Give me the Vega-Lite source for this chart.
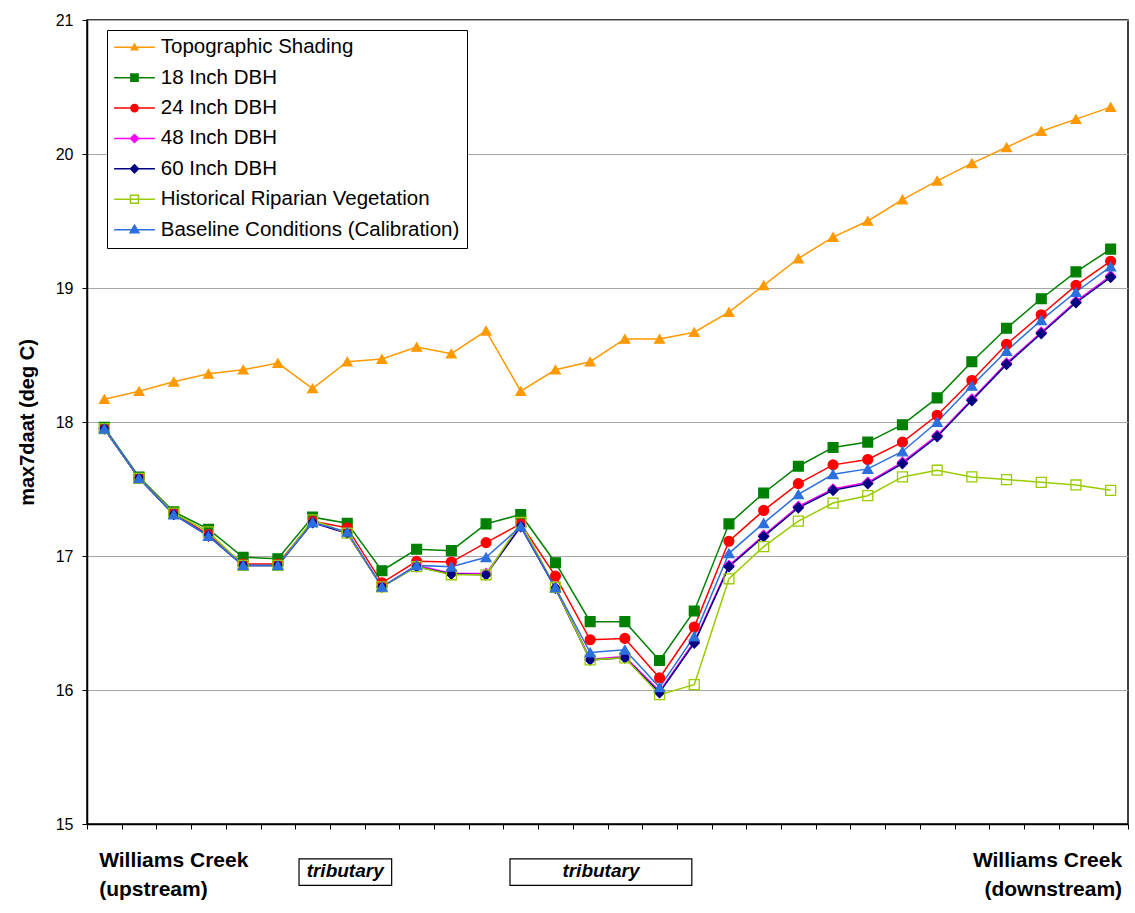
{
  "$schema": "https://vega.github.io/schema/vega-lite/v6.json",
  "width": 1041,
  "height": 804,
  "autosize": {"type": "none"},
  "padding": {"left": 87, "top": 20, "right": 7, "bottom": 89},
  "background": "#ffffff",
  "config": {
    "view": {"stroke": "#000000", "strokeWidth": 1.5},
    "font": "Liberation Sans"
  },
  "datasets": {
    "main": [
      {"station":1,"series":"Topographic Shading","temp":18.17},{"station":2,"series":"Topographic Shading","temp":18.23},{"station":3,"series":"Topographic Shading","temp":18.30},{"station":4,"series":"Topographic Shading","temp":18.36},{"station":5,"series":"Topographic Shading","temp":18.39},{"station":6,"series":"Topographic Shading","temp":18.44},{"station":7,"series":"Topographic Shading","temp":18.25},{"station":8,"series":"Topographic Shading","temp":18.45},{"station":9,"series":"Topographic Shading","temp":18.47},{"station":10,"series":"Topographic Shading","temp":18.56},{"station":11,"series":"Topographic Shading","temp":18.51},{"station":12,"series":"Topographic Shading","temp":18.68},{"station":13,"series":"Topographic Shading","temp":18.23},{"station":14,"series":"Topographic Shading","temp":18.39},{"station":15,"series":"Topographic Shading","temp":18.45},{"station":16,"series":"Topographic Shading","temp":18.62},{"station":17,"series":"Topographic Shading","temp":18.62},{"station":18,"series":"Topographic Shading","temp":18.67},{"station":19,"series":"Topographic Shading","temp":18.82},{"station":20,"series":"Topographic Shading","temp":19.02},{"station":21,"series":"Topographic Shading","temp":19.22},{"station":22,"series":"Topographic Shading","temp":19.38},{"station":23,"series":"Topographic Shading","temp":19.50},{"station":24,"series":"Topographic Shading","temp":19.66},{"station":25,"series":"Topographic Shading","temp":19.80},{"station":26,"series":"Topographic Shading","temp":19.93},{"station":27,"series":"Topographic Shading","temp":20.05},{"station":28,"series":"Topographic Shading","temp":20.17},{"station":29,"series":"Topographic Shading","temp":20.26},{"station":30,"series":"Topographic Shading","temp":20.35},
      {"station":1,"series":"18 Inch DBH","temp":17.96},{"station":2,"series":"18 Inch DBH","temp":17.59},{"station":3,"series":"18 Inch DBH","temp":17.33},{"station":4,"series":"18 Inch DBH","temp":17.20},{"station":5,"series":"18 Inch DBH","temp":16.99},{"station":6,"series":"18 Inch DBH","temp":16.98},{"station":7,"series":"18 Inch DBH","temp":17.29},{"station":8,"series":"18 Inch DBH","temp":17.245},{"station":9,"series":"18 Inch DBH","temp":16.89},{"station":10,"series":"18 Inch DBH","temp":17.05},{"station":11,"series":"18 Inch DBH","temp":17.04},{"station":12,"series":"18 Inch DBH","temp":17.24},{"station":13,"series":"18 Inch DBH","temp":17.31},{"station":14,"series":"18 Inch DBH","temp":16.95},{"station":15,"series":"18 Inch DBH","temp":16.51},{"station":16,"series":"18 Inch DBH","temp":16.51},{"station":17,"series":"18 Inch DBH","temp":16.22},{"station":18,"series":"18 Inch DBH","temp":16.59},{"station":19,"series":"18 Inch DBH","temp":17.24},{"station":20,"series":"18 Inch DBH","temp":17.47},{"station":21,"series":"18 Inch DBH","temp":17.67},{"station":22,"series":"18 Inch DBH","temp":17.81},{"station":23,"series":"18 Inch DBH","temp":17.85},{"station":24,"series":"18 Inch DBH","temp":17.98},{"station":25,"series":"18 Inch DBH","temp":18.18},{"station":26,"series":"18 Inch DBH","temp":18.45},{"station":27,"series":"18 Inch DBH","temp":18.70},{"station":28,"series":"18 Inch DBH","temp":18.92},{"station":29,"series":"18 Inch DBH","temp":19.12},{"station":30,"series":"18 Inch DBH","temp":19.29},
      {"station":1,"series":"24 Inch DBH","temp":17.95},{"station":2,"series":"24 Inch DBH","temp":17.58},{"station":3,"series":"24 Inch DBH","temp":17.32},{"station":4,"series":"24 Inch DBH","temp":17.16},{"station":5,"series":"24 Inch DBH","temp":16.94},{"station":6,"series":"24 Inch DBH","temp":16.94},{"station":7,"series":"24 Inch DBH","temp":17.26},{"station":8,"series":"24 Inch DBH","temp":17.21},{"station":9,"series":"24 Inch DBH","temp":16.80},{"station":10,"series":"24 Inch DBH","temp":16.96},{"station":11,"series":"24 Inch DBH","temp":16.955},{"station":12,"series":"24 Inch DBH","temp":17.10},{"station":13,"series":"24 Inch DBH","temp":17.24},{"station":14,"series":"24 Inch DBH","temp":16.85},{"station":15,"series":"24 Inch DBH","temp":16.375},{"station":16,"series":"24 Inch DBH","temp":16.385},{"station":17,"series":"24 Inch DBH","temp":16.09},{"station":18,"series":"24 Inch DBH","temp":16.47},{"station":19,"series":"24 Inch DBH","temp":17.11},{"station":20,"series":"24 Inch DBH","temp":17.34},{"station":21,"series":"24 Inch DBH","temp":17.54},{"station":22,"series":"24 Inch DBH","temp":17.68},{"station":23,"series":"24 Inch DBH","temp":17.72},{"station":24,"series":"24 Inch DBH","temp":17.85},{"station":25,"series":"24 Inch DBH","temp":18.05},{"station":26,"series":"24 Inch DBH","temp":18.31},{"station":27,"series":"24 Inch DBH","temp":18.58},{"station":28,"series":"24 Inch DBH","temp":18.80},{"station":29,"series":"24 Inch DBH","temp":19.02},{"station":30,"series":"24 Inch DBH","temp":19.20},
      {"station":1,"series":"48 Inch DBH","temp":17.95},{"station":2,"series":"48 Inch DBH","temp":17.58},{"station":3,"series":"48 Inch DBH","temp":17.31},{"station":4,"series":"48 Inch DBH","temp":17.15},{"station":5,"series":"48 Inch DBH","temp":16.93},{"station":6,"series":"48 Inch DBH","temp":16.93},{"station":7,"series":"48 Inch DBH","temp":17.25},{"station":8,"series":"48 Inch DBH","temp":17.17},{"station":9,"series":"48 Inch DBH","temp":16.77},{"station":10,"series":"48 Inch DBH","temp":16.93},{"station":11,"series":"48 Inch DBH","temp":16.87},{"station":12,"series":"48 Inch DBH","temp":16.87},{"station":13,"series":"48 Inch DBH","temp":17.22},{"station":14,"series":"48 Inch DBH","temp":16.76},{"station":15,"series":"48 Inch DBH","temp":16.23},{"station":16,"series":"48 Inch DBH","temp":16.25},{"station":17,"series":"48 Inch DBH","temp":15.99},{"station":18,"series":"48 Inch DBH","temp":16.36},{"station":19,"series":"48 Inch DBH","temp":16.93},{"station":20,"series":"48 Inch DBH","temp":17.155},{"station":21,"series":"48 Inch DBH","temp":17.37},{"station":22,"series":"48 Inch DBH","temp":17.50},{"station":23,"series":"48 Inch DBH","temp":17.55},{"station":24,"series":"48 Inch DBH","temp":17.70},{"station":25,"series":"48 Inch DBH","temp":17.90},{"station":26,"series":"48 Inch DBH","temp":18.17},{"station":27,"series":"48 Inch DBH","temp":18.44},{"station":28,"series":"48 Inch DBH","temp":18.67},{"station":29,"series":"48 Inch DBH","temp":18.90},{"station":30,"series":"48 Inch DBH","temp":19.09},
      {"station":1,"series":"60 Inch DBH","temp":17.95},{"station":2,"series":"60 Inch DBH","temp":17.58},{"station":3,"series":"60 Inch DBH","temp":17.31},{"station":4,"series":"60 Inch DBH","temp":17.15},{"station":5,"series":"60 Inch DBH","temp":16.93},{"station":6,"series":"60 Inch DBH","temp":16.93},{"station":7,"series":"60 Inch DBH","temp":17.25},{"station":8,"series":"60 Inch DBH","temp":17.17},{"station":9,"series":"60 Inch DBH","temp":16.77},{"station":10,"series":"60 Inch DBH","temp":16.92},{"station":11,"series":"60 Inch DBH","temp":16.865},{"station":12,"series":"60 Inch DBH","temp":16.86},{"station":13,"series":"60 Inch DBH","temp":17.22},{"station":14,"series":"60 Inch DBH","temp":16.76},{"station":15,"series":"60 Inch DBH","temp":16.225},{"station":16,"series":"60 Inch DBH","temp":16.24},{"station":17,"series":"60 Inch DBH","temp":15.98},{"station":18,"series":"60 Inch DBH","temp":16.35},{"station":19,"series":"60 Inch DBH","temp":16.92},{"station":20,"series":"60 Inch DBH","temp":17.145},{"station":21,"series":"60 Inch DBH","temp":17.36},{"station":22,"series":"60 Inch DBH","temp":17.49},{"station":23,"series":"60 Inch DBH","temp":17.54},{"station":24,"series":"60 Inch DBH","temp":17.69},{"station":25,"series":"60 Inch DBH","temp":17.89},{"station":26,"series":"60 Inch DBH","temp":18.16},{"station":27,"series":"60 Inch DBH","temp":18.43},{"station":28,"series":"60 Inch DBH","temp":18.66},{"station":29,"series":"60 Inch DBH","temp":18.89},{"station":30,"series":"60 Inch DBH","temp":19.08},
      {"station":1,"series":"Historical Riparian Vegetation","temp":17.95},{"station":2,"series":"Historical Riparian Vegetation","temp":17.58},{"station":3,"series":"Historical Riparian Vegetation","temp":17.32},{"station":4,"series":"Historical Riparian Vegetation","temp":17.18},{"station":5,"series":"Historical Riparian Vegetation","temp":16.93},{"station":6,"series":"Historical Riparian Vegetation","temp":16.93},{"station":7,"series":"Historical Riparian Vegetation","temp":17.27},{"station":8,"series":"Historical Riparian Vegetation","temp":17.17},{"station":9,"series":"Historical Riparian Vegetation","temp":16.77},{"station":10,"series":"Historical Riparian Vegetation","temp":16.92},{"station":11,"series":"Historical Riparian Vegetation","temp":16.86},{"station":12,"series":"Historical Riparian Vegetation","temp":16.86},{"station":13,"series":"Historical Riparian Vegetation","temp":17.25},{"station":14,"series":"Historical Riparian Vegetation","temp":16.765},{"station":15,"series":"Historical Riparian Vegetation","temp":16.225},{"station":16,"series":"Historical Riparian Vegetation","temp":16.24},{"station":17,"series":"Historical Riparian Vegetation","temp":15.965},{"station":18,"series":"Historical Riparian Vegetation","temp":16.04},{"station":19,"series":"Historical Riparian Vegetation","temp":16.83},{"station":20,"series":"Historical Riparian Vegetation","temp":17.07},{"station":21,"series":"Historical Riparian Vegetation","temp":17.26},{"station":22,"series":"Historical Riparian Vegetation","temp":17.395},{"station":23,"series":"Historical Riparian Vegetation","temp":17.45},{"station":24,"series":"Historical Riparian Vegetation","temp":17.59},{"station":25,"series":"Historical Riparian Vegetation","temp":17.64},{"station":26,"series":"Historical Riparian Vegetation","temp":17.59},{"station":27,"series":"Historical Riparian Vegetation","temp":17.57},{"station":28,"series":"Historical Riparian Vegetation","temp":17.55},{"station":29,"series":"Historical Riparian Vegetation","temp":17.53},{"station":30,"series":"Historical Riparian Vegetation","temp":17.49},
      {"station":1,"series":"Baseline Conditions (Calibration)","temp":17.95},{"station":2,"series":"Baseline Conditions (Calibration)","temp":17.58},{"station":3,"series":"Baseline Conditions (Calibration)","temp":17.31},{"station":4,"series":"Baseline Conditions (Calibration)","temp":17.15},{"station":5,"series":"Baseline Conditions (Calibration)","temp":16.93},{"station":6,"series":"Baseline Conditions (Calibration)","temp":16.93},{"station":7,"series":"Baseline Conditions (Calibration)","temp":17.25},{"station":8,"series":"Baseline Conditions (Calibration)","temp":17.18},{"station":9,"series":"Baseline Conditions (Calibration)","temp":16.77},{"station":10,"series":"Baseline Conditions (Calibration)","temp":16.93},{"station":11,"series":"Baseline Conditions (Calibration)","temp":16.92},{"station":12,"series":"Baseline Conditions (Calibration)","temp":16.99},{"station":13,"series":"Baseline Conditions (Calibration)","temp":17.22},{"station":14,"series":"Baseline Conditions (Calibration)","temp":16.765},{"station":15,"series":"Baseline Conditions (Calibration)","temp":16.28},{"station":16,"series":"Baseline Conditions (Calibration)","temp":16.30},{"station":17,"series":"Baseline Conditions (Calibration)","temp":16.02},{"station":18,"series":"Baseline Conditions (Calibration)","temp":16.40},{"station":19,"series":"Baseline Conditions (Calibration)","temp":17.02},{"station":20,"series":"Baseline Conditions (Calibration)","temp":17.245},{"station":21,"series":"Baseline Conditions (Calibration)","temp":17.46},{"station":22,"series":"Baseline Conditions (Calibration)","temp":17.61},{"station":23,"series":"Baseline Conditions (Calibration)","temp":17.65},{"station":24,"series":"Baseline Conditions (Calibration)","temp":17.78},{"station":25,"series":"Baseline Conditions (Calibration)","temp":18.00},{"station":26,"series":"Baseline Conditions (Calibration)","temp":18.27},{"station":27,"series":"Baseline Conditions (Calibration)","temp":18.53},{"station":28,"series":"Baseline Conditions (Calibration)","temp":18.76},{"station":29,"series":"Baseline Conditions (Calibration)","temp":18.97},{"station":30,"series":"Baseline Conditions (Calibration)","temp":19.16}
    ],
    "leftLabels": [
      {"station": 0.85, "temp": 14.676, "label": "Williams Creek"},
      {"station": 0.85, "temp": 14.46, "label": "(upstream)"}
    ],
    "rightLabels": [
      {"station": 30.33, "temp": 14.676, "label": "Williams Creek"},
      {"station": 30.33, "temp": 14.46, "label": "(downstream)"}
    ],
    "tribBoxes": [
      {"station": 6.61, "station2": 9.28, "temp": 14.739, "temp2": 14.542},
      {"station": 12.69, "station2": 17.93, "temp": 14.739, "temp2": 14.542}
    ],
    "tribLabels": [
      {"station": 7.94, "temp": 14.605, "label": "tributary"},
      {"station": 15.31, "temp": 14.605, "label": "tributary"}
    ]
  },
  "layer": [
    {
      "data": {"name": "main"},
      "mark": {"type": "line", "strokeWidth": 1.5},
      "encoding": {
        "x": {"field": "station", "type": "quantitative",
              "scale": {"domain": [0.5, 30.5], "nice": false, "zero": false},
              "axis": {"values": [0.5,1.5,2.5,3.5,4.5,5.5,6.5,7.5,8.5,9.5,10.5,11.5,12.5,13.5,14.5,15.5,16.5,17.5,18.5,19.5,20.5,21.5,22.5,23.5,24.5,25.5,26.5,27.5,28.5,29.5,30.5],
                       "tickCount": 40,
                       "labels": false, "grid": false, "title": null, "tickSize": 5, "tickColor": "#000000", "domainColor": "#000000", "domainWidth": 1.5}},
        "y": {"field": "temp", "type": "quantitative",
              "scale": {"domain": [15, 21], "nice": false, "zero": false},
              "axis": {"values": [15,16,17,18,19,20,21], "format": "d", "title": "max7daat (deg C)",
                       "grid": true, "gridColor": "#a6a6a6", "gridWidth": 1,
                       "tickSize": 5, "tickColor": "#000000", "domainColor": "#000000", "domainWidth": 1.5,
                       "labelFont": "Liberation Sans", "labelFontSize": 16, "labelColor": "#000000", "labelPadding": 9,
                       "titleFont": "Liberation Sans", "titleFontSize": 20, "titleFontWeight": "bold", "titleColor": "#000000", "titlePadding": 18}},
        "stroke": {"field": "series", "type": "nominal",
                   "scale": {"domain": ["Topographic Shading","18 Inch DBH","24 Inch DBH","48 Inch DBH","60 Inch DBH","Historical Riparian Vegetation","Baseline Conditions (Calibration)"],
                             "range": ["#FF9900","#008000","#FF0000","#FF00FF","#000080","#99CC00","#2C6FDF"]},
                   "legend": {
                     "title": null, "orient": "none", "legendX": 20, "legendY": 10,
                     "padding": 7, "strokeColor": "#000000", "fillColor": "#ffffff",
                     "labelFont": "Liberation Sans", "labelFontSize": 20.5, "labelColor": "#000000", "labelLimit": 400,
                     "rowPadding": 9.4, "symbolSize": 64, "symbolStrokeWidth": 1.5,
                     "symbolOffset": 10.25, "labelOffset": 16,
                     "encode": {
                       "symbols": {
                         "update": {
                           "shape": {"signal": "datum.value === 'Topographic Shading' ? 'M-5.1,0H5.1M0,-0.8L0.8,0.6L-0.8,0.6Z' : datum.value === '18 Inch DBH' ? 'M-5.1,0H5.1M-0.9,-0.9H0.9V0.9H-0.9Z' : datum.value === '24 Inch DBH' ? 'M-5.1,0H5.1M0.9,0A0.9,0.9,0,1,1,-0.9,0A0.9,0.9,0,1,1,0.9,0Z' : datum.value === 'Historical Riparian Vegetation' ? 'M-5.1,0H5.1M-1,-1H1V1H-1Z' : datum.value === 'Baseline Conditions (Calibration)' ? 'M-5.1,0H5.1M0,-1.1L1.1,0.8L-1.1,0.8Z' : 'M-5.1,0H5.1M0,-1L1,0L0,1L-1,0Z'"},
                           "fill": {"signal": "datum.value === 'Topographic Shading' ? '#FF9900' : datum.value === '18 Inch DBH' ? '#008000' : datum.value === '24 Inch DBH' ? '#FF0000' : datum.value === '48 Inch DBH' ? '#FF00FF' : datum.value === '60 Inch DBH' ? '#000080' : datum.value === 'Historical Riparian Vegetation' ? '#ffffff' : '#2C6FDF'"},
                           "strokeWidth": {"value": 1.5},
                           "size": {"value": 64},
                           "opacity": {"value": 1}
                         }
                       }
                     }
                   }}
      }
    },
    {
      "data": {"name": "main"},
      "mark": {"type": "point", "opacity": 1, "strokeWidth": 1.3},
      "encoding": {
        "x": {"field": "station", "type": "quantitative", "scale": {"domain": [0.5, 30.5], "nice": false, "zero": false}},
        "y": {"field": "temp", "type": "quantitative", "scale": {"domain": [15, 21], "nice": false, "zero": false}},
        "stroke": {"field": "series", "type": "nominal", "legend": null},
        "shape": {"field": "series", "type": "nominal", "legend": null,
                  "scale": {"domain": ["Baseline Conditions (Calibration)","Historical Riparian Vegetation","60 Inch DBH","48 Inch DBH","24 Inch DBH","18 Inch DBH","Topographic Shading"],
                            "range": ["triangle-up","square","diamond","diamond","circle","square","triangle-up"]}},
        "fill": {"field": "series", "type": "nominal", "legend": null,
                 "scale": {"domain": ["Baseline Conditions (Calibration)","Historical Riparian Vegetation","60 Inch DBH","48 Inch DBH","24 Inch DBH","18 Inch DBH","Topographic Shading"],
                           "range": ["#2C6FDF","transparent","#000080","#FF00FF","#FF0000","#008000","#FF9900"]}},
        "size": {"field": "series", "type": "nominal", "legend": null,
                 "scale": {"domain": ["Baseline Conditions (Calibration)","Historical Riparian Vegetation","60 Inch DBH","48 Inch DBH","24 Inch DBH","18 Inch DBH","Topographic Shading"],
                           "range": [100, 95, 64, 64, 70, 60, 45]}}
      }
    },
    {
      "data": {"name": "tribBoxes"},
      "mark": {"type": "rect", "fill": "#ffffff", "stroke": "#000000", "strokeWidth": 1.2},
      "encoding": {
        "x": {"field": "station", "type": "quantitative", "scale": {"domain": [0.5, 30.5], "nice": false, "zero": false}},
        "x2": {"field": "station2"},
        "y": {"field": "temp", "type": "quantitative", "scale": {"domain": [15, 21], "nice": false, "zero": false}},
        "y2": {"field": "temp2"}
      }
    },
    {
      "data": {"name": "tribLabels"},
      "mark": {"type": "text", "align": "center", "baseline": "alphabetic", "font": "Liberation Sans", "fontSize": 19, "fontWeight": "bold", "fontStyle": "italic", "color": "#000000"},
      "encoding": {
        "x": {"field": "station", "type": "quantitative", "scale": {"domain": [0.5, 30.5], "nice": false, "zero": false}},
        "y": {"field": "temp", "type": "quantitative", "scale": {"domain": [15, 21], "nice": false, "zero": false}},
        "text": {"field": "label"}
      }
    },
    {
      "data": {"name": "leftLabels"},
      "mark": {"type": "text", "align": "left", "baseline": "alphabetic", "font": "Liberation Sans", "fontSize": 21, "fontWeight": "bold", "color": "#000000"},
      "encoding": {
        "x": {"field": "station", "type": "quantitative", "scale": {"domain": [0.5, 30.5], "nice": false, "zero": false}},
        "y": {"field": "temp", "type": "quantitative", "scale": {"domain": [15, 21], "nice": false, "zero": false}},
        "text": {"field": "label"}
      }
    },
    {
      "data": {"name": "rightLabels"},
      "mark": {"type": "text", "align": "right", "baseline": "alphabetic", "font": "Liberation Sans", "fontSize": 21, "fontWeight": "bold", "color": "#000000"},
      "encoding": {
        "x": {"field": "station", "type": "quantitative", "scale": {"domain": [0.5, 30.5], "nice": false, "zero": false}},
        "y": {"field": "temp", "type": "quantitative", "scale": {"domain": [15, 21], "nice": false, "zero": false}},
        "text": {"field": "label"}
      }
    }
  ]
}
